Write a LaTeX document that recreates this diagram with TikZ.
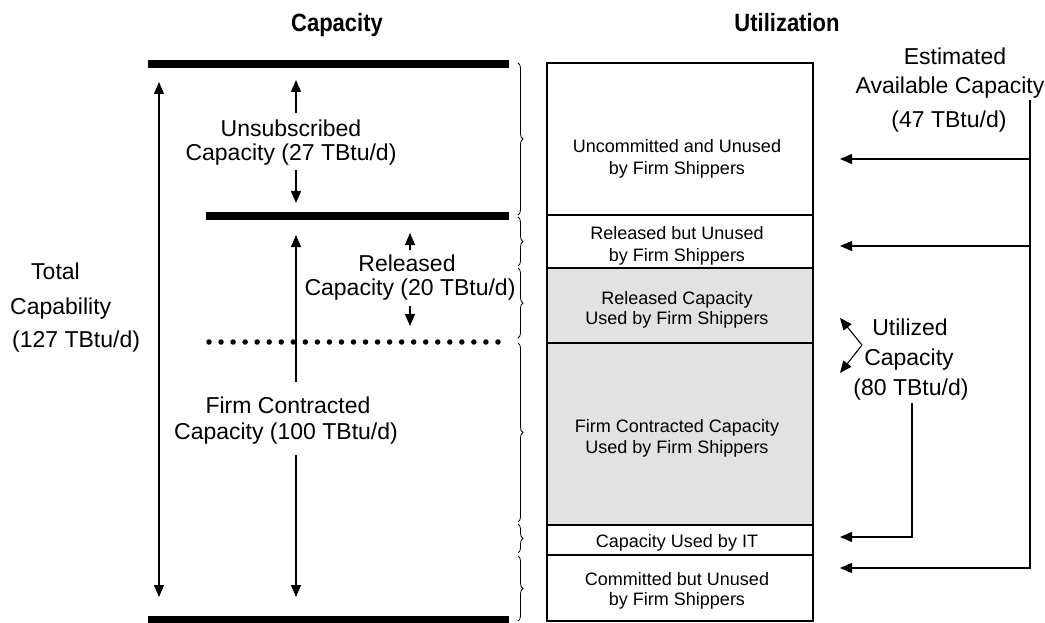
\documentclass[tikz,border=0pt]{standalone}
\usepackage{fontspec}
\setmainfont{Liberation Sans}
\newfontfamily\ttlfont[FakeStretch=0.88]{Liberation Sans}
\usetikzlibrary{arrows.meta,decorations.pathreplacing}
\definecolor{cellgrey}{HTML}{E2E2E2}
\begin{document}
\begin{tikzpicture}[x=1pt,y=-1pt,
  big/.style={font=\fontsize{23}{27}\selectfont, inner sep=0pt, anchor=base},
  small/.style={font=\fontsize{18}{21}\selectfont, inner sep=0pt, anchor=base},
  ttl/.style={font=\ttlfont\fontsize{25}{29}\selectfont\bfseries, inner sep=0pt, anchor=base},
  bar/.style={line width=7.5pt},
  dots/.style={line width=5.5pt, line cap=round, dash pattern=on 0pt off 12.04pt},
  arr/.style={line width=1.1pt, -{Triangle[length=12pt,width=10pt]}},
  darr/.style={line width=1.1pt, {Triangle[length=12pt,width=10pt]}-{Triangle[length=12pt,width=10pt]}},
  cell/.style={draw, line width=1.3pt, minimum width=266pt, inner sep=0pt, outer sep=0pt},
  br/.style={decorate, decoration={brace, amplitude=5pt, aspect=0.5}, line width=0.8pt},
]
\useasboundingbox (0,0) rectangle (1045,623);

% titles
\node[ttl] (tcap) at (337,32) {Capacity};
\node[ttl] (tutil) at (787,32) {Utilization};

% bars
\draw[bar] (148,64) -- (509,64);
\draw[bar] (206,216) -- (509,216);
\draw[bar] (148,619.5) -- (509,619.5);
\draw[dots] (209,342) -- (498,342);

% total capability
\node[big, anchor=base west] (tot1) at (31,279) {Total};
\node[big, anchor=base west] (tot2) at (10,314) {Capability};
\node[big, anchor=base west] (tot3) at (12,347) {(127 TBtu/d)};
\coordinate (totT) at (159,82);
\coordinate (totB) at (159,597);
\draw[darr] (totT) -- (totB);

% unsubscribed
\node[big] (uns1) at (291,137) {Unsubscribed};
\node[big] (uns2) at (291,161) {Capacity (27 TBtu/d)};
\coordinate (unsA) at (296,113);
\coordinate (unsAt) at (296,80);
\coordinate (unsB) at (296,170);
\coordinate (unsBt) at (296,203);
\draw[arr] (unsA) -- (unsAt);
\draw[arr] (unsB) -- (unsBt);

% released
\node[big] (rel1) at (407,271) {Released};
\node[big] (rel2) at (410,295) {Capacity (20 TBtu/d)};
\coordinate (relA) at (410,250);
\coordinate (relAt) at (410,233);
\coordinate (relB) at (410,306);
\coordinate (relBt) at (410,326);
\draw[arr] (relA) -- (relAt);
\draw[arr] (relB) -- (relBt);

% firm contracted
\node[big] (fc1) at (288,413) {Firm Contracted};
\node[big] (fc2) at (286,439) {Capacity (100 TBtu/d)};
\coordinate (fcA) at (296,382);
\coordinate (fcAt) at (296,235);
\coordinate (fcB) at (296,455);
\coordinate (fcBt) at (296,597);
\draw[arr] (fcA) -- (fcAt);
\draw[arr] (fcB) -- (fcBt);

% braces
\draw[br] (518,63) -- (518,215);
\draw[br] (518,217) -- (518,266);
\draw[br] (518,268) -- (518,338);
\draw[br] (518,343) -- (518,522);
\draw[br] (518,524) -- (518,553);
\draw[br] (518,556) -- (518,621);

% utilization cells
\node[cell] (r1) at (680,139) [minimum height=152pt] {};
\node[cell] (r2) at (680,241.5) [minimum height=53pt] {};
\node[cell, fill=cellgrey] (r3) at (680,305.5) [minimum height=75pt] {};
\node[cell, fill=cellgrey] (r4) at (680,434) [minimum height=182pt] {};
\node[cell] (r5) at (680,540) [minimum height=30pt] {};
\node[cell] (r6) at (680,588) [minimum height=66pt] {};

\node[small] (c1a) at (677,153) {Uncommitted and Unused};
\node[small] (c1b) at (677,175) {by Firm Shippers};
\node[small] (c2a) at (677,240) {Released but Unused};
\node[small] (c2b) at (677,261) {by Firm Shippers};
\node[small] (c3a) at (677,304) {Released Capacity};
\node[small] (c3b) at (677,324) {Used by Firm Shippers};
\node[small] (c4a) at (677,432) {Firm Contracted Capacity};
\node[small] (c4b) at (677,453) {Used by Firm Shippers};
\node[small] (c5) at (677,547) {Capacity Used by IT};
\node[small] (c6a) at (677,585) {Committed but Unused};
\node[small] (c6b) at (677,605) {by Firm Shippers};

% estimated available capacity
\node[big] (est1) at (955,65) {Estimated};
\node[big] (est2) at (950,94) {Available Capacity};
\node[big] (est3) at (949,128) {(47 TBtu/d)};
\coordinate (vtop) at (1030,100);
\coordinate (j1) at (1030,159);
\coordinate (j2) at (1030,246);
\coordinate (a1) at (840,159);
\coordinate (a2) at (840,246);
\coordinate (a4) at (840,568);
\draw[arr] (vtop) |- (a4);
\draw[arr] (j1) -- (a1);
\draw[arr] (j2) -- (a2);

% utilized capacity
\node[big] (ut1) at (910,335) {Utilized};
\node[big] (ut2) at (909,365) {Capacity};
\node[big] (ut3) at (911,395) {(80 TBtu/d)};
\coordinate (uj) at (862,345);
\coordinate (ua) at (840,318);
\coordinate (ub) at (840,373);
\draw[arr] (uj) -- (ua);
\draw[arr] (uj) -- (ub);
\coordinate (utop) at (912,403);
\coordinate (a3) at (840,537);
\draw[arr] (utop) |- (a3);
\end{tikzpicture}
\end{document}
